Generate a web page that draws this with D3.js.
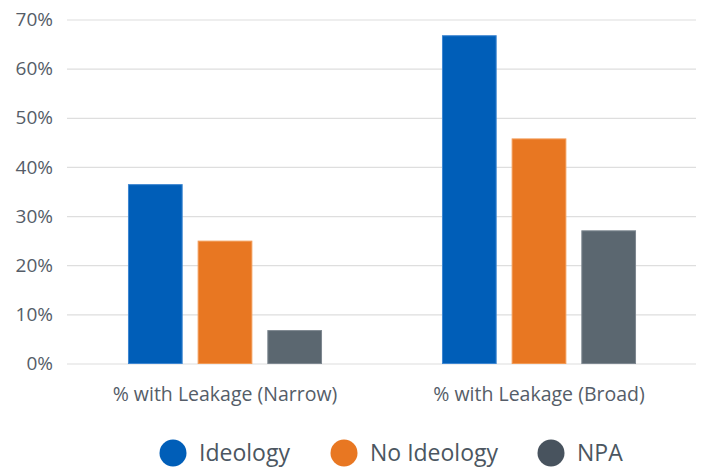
<!DOCTYPE html>
<html>
<head>
<meta charset="utf-8">
<script src="https://cdn.jsdelivr.net/npm/d3@7"></script>
<style>
  html, body { margin: 0; padding: 0; background: #fff; }
  svg text { font-family: "Open Sans", "Noto Sans", sans-serif; }
</style>
</head>
<body>
<svg id="chart" width="704" height="468"></svg>
<script>
// Categories, series and values (percent)
const categories = ["% with Leakage (Narrow)", "% with Leakage (Broad)"];
const seriesNames = ["Ideology", "No Ideology", "NPA"];
const ideology = [36.5, 66.8];
const noIdeology = [25.0, 45.8];
const npa = [6.8, 27.1];
const yTicks = [0, 10, 20, 30, 40, 50, 60, 70];

const seriesValues = [ideology, noIdeology, npa];
const barColors = ["#005eb8", "#e87722", "#5b6770"];
const barStrokes = ["#3d86d1", "#f29a55", "#7d8790"];
const legendColors = ["#005eb8", "#e87722", "#48535e"];

const svg = d3.select("#chart");
const margin = { top: 19.5, right: 8, bottom: 104.5, left: 68 };
const W = 704, H = 468;
const innerW = W - margin.left - margin.right;
const innerH = H - margin.top - margin.bottom;

const g = svg.append("g").attr("transform", `translate(${margin.left},${margin.top})`);

const x0 = d3.scaleBand().domain(categories).range([0, innerW]).paddingInner(0.382).paddingOuter(0.191);
const x1 = d3.scaleBand().domain(seriesNames).range([0, x0.bandwidth()]).paddingInner(0.215);
const y = d3.scaleLinear().domain([0, 70]).range([innerH, 0]);

// Gridlines
g.append("g")
  .selectAll("line")
  .data(yTicks)
  .join("line")
  .attr("x1", -1).attr("x2", innerW)
  .attr("y1", d => y(d) + 0.5).attr("y2", d => y(d) + 0.5)
  .attr("stroke", "#dedede").attr("stroke-width", 1.2);

// Y axis labels
const yAxis = d3.axisLeft(y).tickValues(yTicks).tickFormat(d => d + "%").tickSize(0).tickPadding(15);
g.append("g").call(yAxis)
  .call(a => a.select(".domain").remove())
  .selectAll("text")
  .attr("font-size", 19).attr("fill", "#555d68")
  .attr("font-family", "'Open Sans', sans-serif");

// Bars
const groups = g.append("g").selectAll("g")
  .data(categories)
  .join("g")
  .attr("transform", d => `translate(${x0(d)},0)`);

groups.selectAll("rect")
  .data((c, ci) => seriesNames.map((s, si) => ({ s, si, v: seriesValues[si][ci] })))
  .join("rect")
  .attr("x", d => x1(d.s) + 0.5)
  .attr("y", d => y(d.v) + 0.5)
  .attr("width", x1.bandwidth() - 1)
  .attr("height", d => y(0) - y(d.v) - 0.5)
  .attr("fill", d => barColors[d.si])
  .attr("stroke", d => barStrokes[d.si])
  .attr("stroke-width", 1);

// X axis labels
const xAxis = d3.axisBottom(x0).tickSize(0).tickPadding(24);
g.append("g").attr("transform", `translate(0,${innerH})`).call(xAxis)
  .call(a => a.select(".domain").remove())
  .selectAll("text")
  .attr("font-size", 19.5).attr("fill", "#555d68")
  .attr("font-family", "'Open Sans', sans-serif");

// Legend
const legendX = [173, 344, 551];
const legend = svg.append("g").attr("transform", "translate(0,453)");
const items = legend.selectAll("g")
  .data(seriesNames)
  .join("g")
  .attr("transform", (d, i) => `translate(${legendX[i]},0)`);
items.append("circle").attr("r", 13.5).attr("fill", (d, i) => legendColors[i]);
items.append("text")
  .attr("x", 26).attr("y", 0).attr("dy", "0.36em")
  .attr("font-size", 23).attr("fill", "#4b5661")
  .text(d => d);
</script>
</body>
</html>
